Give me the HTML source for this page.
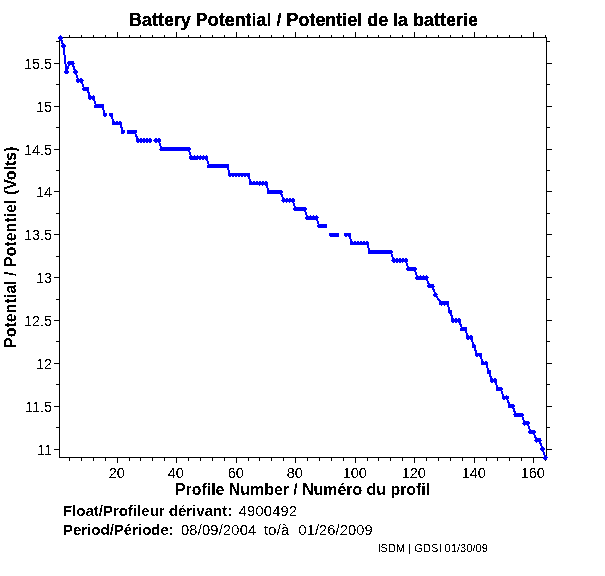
<!DOCTYPE html>
<html><head><meta charset="utf-8"><title>Battery Potential</title>
<style>
html,body{margin:0;padding:0;background:#fff;}
body{width:605px;height:576px;position:relative;overflow:hidden;font-family:"Liberation Sans",sans-serif;color:#000;}
.t{position:absolute;white-space:nowrap;line-height:1;margin:0;padding:0;}
</style></head><body>
<svg width="605" height="576" viewBox="0 0 605 576" shape-rendering="crispEdges" style="position:absolute;left:0;top:0"><defs><filter id="bin" x="0" y="0" width="100%" height="100%" color-interpolation-filters="sRGB"><feComponentTransfer><feFuncA type="discrete" tableValues="0 0 1 1"/></feComponentTransfer></filter></defs><path d="M117 32h1v1h-1zM176 32h1v1h-1zM236 32h1v1h-1zM295 32h1v1h-1zM355 32h1v1h-1zM414 32h1v1h-1zM474 32h1v1h-1zM533 32h1v1h-1zM117 33h1v1h-1zM176 33h1v1h-1zM236 33h1v1h-1zM295 33h1v1h-1zM355 33h1v1h-1zM414 33h1v1h-1zM474 33h1v1h-1zM533 33h1v1h-1zM117 34h1v1h-1zM176 34h1v1h-1zM236 34h1v1h-1zM295 34h1v1h-1zM355 34h1v1h-1zM414 34h1v1h-1zM474 34h1v1h-1zM533 34h1v1h-1zM69 35h1v1h-1zM81 35h1v1h-1zM93 35h1v1h-1zM105 35h1v1h-1zM117 35h1v1h-1zM129 35h1v1h-1zM140 35h1v1h-1zM152 35h1v1h-1zM164 35h1v1h-1zM176 35h1v1h-1zM188 35h1v1h-1zM200 35h1v1h-1zM212 35h1v1h-1zM224 35h1v1h-1zM236 35h1v1h-1zM248 35h1v1h-1zM259 35h1v1h-1zM271 35h1v1h-1zM283 35h1v1h-1zM295 35h1v1h-1zM307 35h1v1h-1zM319 35h1v1h-1zM331 35h1v1h-1zM343 35h1v1h-1zM355 35h1v1h-1zM367 35h1v1h-1zM378 35h1v1h-1zM390 35h1v1h-1zM402 35h1v1h-1zM414 35h1v1h-1zM426 35h1v1h-1zM438 35h1v1h-1zM450 35h1v1h-1zM462 35h1v1h-1zM474 35h1v1h-1zM486 35h1v1h-1zM497 35h1v1h-1zM509 35h1v1h-1zM521 35h1v1h-1zM533 35h1v1h-1zM545 35h1v1h-1zM69 36h1v1h-1zM81 36h1v1h-1zM93 36h1v1h-1zM105 36h1v1h-1zM117 36h1v1h-1zM129 36h1v1h-1zM140 36h1v1h-1zM152 36h1v1h-1zM164 36h1v1h-1zM176 36h1v1h-1zM188 36h1v1h-1zM200 36h1v1h-1zM212 36h1v1h-1zM224 36h1v1h-1zM236 36h1v1h-1zM248 36h1v1h-1zM259 36h1v1h-1zM271 36h1v1h-1zM283 36h1v1h-1zM295 36h1v1h-1zM307 36h1v1h-1zM319 36h1v1h-1zM331 36h1v1h-1zM343 36h1v1h-1zM355 36h1v1h-1zM367 36h1v1h-1zM378 36h1v1h-1zM390 36h1v1h-1zM402 36h1v1h-1zM414 36h1v1h-1zM426 36h1v1h-1zM438 36h1v1h-1zM450 36h1v1h-1zM462 36h1v1h-1zM474 36h1v1h-1zM486 36h1v1h-1zM497 36h1v1h-1zM509 36h1v1h-1zM521 36h1v1h-1zM533 36h1v1h-1zM545 36h1v1h-1zM59 37h488v1h-488zM59 38h1v1h-1zM546 38h1v1h-1zM59 39h1v1h-1zM546 39h1v1h-1zM59 40h1v1h-1zM546 40h1v1h-1zM56 41h4v1h-4zM546 41h4v1h-4zM59 42h1v1h-1zM546 42h1v1h-1zM59 43h1v1h-1zM546 43h1v1h-1zM59 44h1v1h-1zM546 44h1v1h-1zM59 45h1v1h-1zM546 45h1v1h-1zM59 46h1v1h-1zM546 46h1v1h-1zM59 47h1v1h-1zM546 47h1v1h-1zM59 48h1v1h-1zM546 48h1v1h-1zM59 49h1v1h-1zM546 49h1v1h-1zM59 50h1v1h-1zM546 50h1v1h-1zM59 51h1v1h-1zM546 51h1v1h-1zM59 52h1v1h-1zM546 52h1v1h-1zM59 53h1v1h-1zM546 53h1v1h-1zM59 54h1v1h-1zM546 54h1v1h-1zM59 55h1v1h-1zM546 55h1v1h-1zM59 56h1v1h-1zM546 56h1v1h-1zM59 57h1v1h-1zM546 57h1v1h-1zM59 58h1v1h-1zM546 58h1v1h-1zM59 59h1v1h-1zM546 59h1v1h-1zM59 60h1v1h-1zM546 60h1v1h-1zM59 61h1v1h-1zM546 61h1v1h-1zM59 62h1v1h-1zM546 62h1v1h-1zM54 63h6v1h-6zM546 63h6v1h-6zM59 64h1v1h-1zM546 64h1v1h-1zM59 65h1v1h-1zM546 65h1v1h-1zM59 66h1v1h-1zM546 66h1v1h-1zM59 67h1v1h-1zM546 67h1v1h-1zM59 68h1v1h-1zM546 68h1v1h-1zM59 69h1v1h-1zM546 69h1v1h-1zM59 70h1v1h-1zM546 70h1v1h-1zM59 71h1v1h-1zM546 71h1v1h-1zM59 72h1v1h-1zM546 72h1v1h-1zM59 73h1v1h-1zM546 73h1v1h-1zM59 74h1v1h-1zM546 74h1v1h-1zM59 75h1v1h-1zM546 75h1v1h-1zM59 76h1v1h-1zM546 76h1v1h-1zM59 77h1v1h-1zM546 77h1v1h-1zM59 78h1v1h-1zM546 78h1v1h-1zM59 79h1v1h-1zM546 79h1v1h-1zM59 80h1v1h-1zM546 80h1v1h-1zM59 81h1v1h-1zM546 81h1v1h-1zM59 82h1v1h-1zM546 82h1v1h-1zM59 83h1v1h-1zM546 83h1v1h-1zM56 84h4v1h-4zM546 84h4v1h-4zM59 85h1v1h-1zM546 85h1v1h-1zM59 86h1v1h-1zM546 86h1v1h-1zM59 87h1v1h-1zM546 87h1v1h-1zM59 88h1v1h-1zM546 88h1v1h-1zM59 89h1v1h-1zM546 89h1v1h-1zM59 90h1v1h-1zM546 90h1v1h-1zM59 91h1v1h-1zM546 91h1v1h-1zM59 92h1v1h-1zM546 92h1v1h-1zM59 93h1v1h-1zM546 93h1v1h-1zM59 94h1v1h-1zM546 94h1v1h-1zM59 95h1v1h-1zM546 95h1v1h-1zM59 96h1v1h-1zM546 96h1v1h-1zM59 97h1v1h-1zM546 97h1v1h-1zM59 98h1v1h-1zM546 98h1v1h-1zM59 99h1v1h-1zM546 99h1v1h-1zM59 100h1v1h-1zM546 100h1v1h-1zM59 101h1v1h-1zM546 101h1v1h-1zM59 102h1v1h-1zM546 102h1v1h-1zM59 103h1v1h-1zM546 103h1v1h-1zM59 104h1v1h-1zM546 104h1v1h-1zM59 105h1v1h-1zM546 105h1v1h-1zM54 106h6v1h-6zM546 106h6v1h-6zM59 107h1v1h-1zM546 107h1v1h-1zM59 108h1v1h-1zM546 108h1v1h-1zM59 109h1v1h-1zM546 109h1v1h-1zM59 110h1v1h-1zM546 110h1v1h-1zM59 111h1v1h-1zM546 111h1v1h-1zM59 112h1v1h-1zM546 112h1v1h-1zM59 113h1v1h-1zM546 113h1v1h-1zM59 114h1v1h-1zM546 114h1v1h-1zM59 115h1v1h-1zM546 115h1v1h-1zM59 116h1v1h-1zM546 116h1v1h-1zM59 117h1v1h-1zM546 117h1v1h-1zM59 118h1v1h-1zM546 118h1v1h-1zM59 119h1v1h-1zM546 119h1v1h-1zM59 120h1v1h-1zM546 120h1v1h-1zM59 121h1v1h-1zM546 121h1v1h-1zM59 122h1v1h-1zM546 122h1v1h-1zM59 123h1v1h-1zM546 123h1v1h-1zM59 124h1v1h-1zM546 124h1v1h-1zM59 125h1v1h-1zM546 125h1v1h-1zM59 126h1v1h-1zM546 126h1v1h-1zM56 127h4v1h-4zM546 127h4v1h-4zM59 128h1v1h-1zM546 128h1v1h-1zM59 129h1v1h-1zM546 129h1v1h-1zM59 130h1v1h-1zM546 130h1v1h-1zM59 131h1v1h-1zM546 131h1v1h-1zM59 132h1v1h-1zM546 132h1v1h-1zM59 133h1v1h-1zM546 133h1v1h-1zM59 134h1v1h-1zM546 134h1v1h-1zM59 135h1v1h-1zM546 135h1v1h-1zM59 136h1v1h-1zM546 136h1v1h-1zM59 137h1v1h-1zM546 137h1v1h-1zM59 138h1v1h-1zM546 138h1v1h-1zM59 139h1v1h-1zM546 139h1v1h-1zM59 140h1v1h-1zM546 140h1v1h-1zM59 141h1v1h-1zM546 141h1v1h-1zM59 142h1v1h-1zM546 142h1v1h-1zM59 143h1v1h-1zM546 143h1v1h-1zM59 144h1v1h-1zM546 144h1v1h-1zM59 145h1v1h-1zM546 145h1v1h-1zM59 146h1v1h-1zM546 146h1v1h-1zM59 147h1v1h-1zM546 147h1v1h-1zM59 148h1v1h-1zM546 148h1v1h-1zM54 149h6v1h-6zM546 149h6v1h-6zM59 150h1v1h-1zM546 150h1v1h-1zM59 151h1v1h-1zM546 151h1v1h-1zM59 152h1v1h-1zM546 152h1v1h-1zM59 153h1v1h-1zM546 153h1v1h-1zM59 154h1v1h-1zM546 154h1v1h-1zM59 155h1v1h-1zM546 155h1v1h-1zM59 156h1v1h-1zM546 156h1v1h-1zM59 157h1v1h-1zM546 157h1v1h-1zM59 158h1v1h-1zM546 158h1v1h-1zM59 159h1v1h-1zM546 159h1v1h-1zM59 160h1v1h-1zM546 160h1v1h-1zM59 161h1v1h-1zM546 161h1v1h-1zM59 162h1v1h-1zM546 162h1v1h-1zM59 163h1v1h-1zM546 163h1v1h-1zM59 164h1v1h-1zM546 164h1v1h-1zM59 165h1v1h-1zM546 165h1v1h-1zM59 166h1v1h-1zM546 166h1v1h-1zM59 167h1v1h-1zM546 167h1v1h-1zM59 168h1v1h-1zM546 168h1v1h-1zM59 169h1v1h-1zM546 169h1v1h-1zM56 170h4v1h-4zM546 170h4v1h-4zM59 171h1v1h-1zM546 171h1v1h-1zM59 172h1v1h-1zM546 172h1v1h-1zM59 173h1v1h-1zM546 173h1v1h-1zM59 174h1v1h-1zM546 174h1v1h-1zM59 175h1v1h-1zM546 175h1v1h-1zM59 176h1v1h-1zM546 176h1v1h-1zM59 177h1v1h-1zM546 177h1v1h-1zM59 178h1v1h-1zM546 178h1v1h-1zM59 179h1v1h-1zM546 179h1v1h-1zM59 180h1v1h-1zM546 180h1v1h-1zM59 181h1v1h-1zM546 181h1v1h-1zM59 182h1v1h-1zM546 182h1v1h-1zM59 183h1v1h-1zM546 183h1v1h-1zM59 184h1v1h-1zM546 184h1v1h-1zM59 185h1v1h-1zM546 185h1v1h-1zM59 186h1v1h-1zM546 186h1v1h-1zM59 187h1v1h-1zM546 187h1v1h-1zM59 188h1v1h-1zM546 188h1v1h-1zM59 189h1v1h-1zM546 189h1v1h-1zM59 190h1v1h-1zM546 190h1v1h-1zM54 191h6v1h-6zM546 191h6v1h-6zM59 192h1v1h-1zM546 192h1v1h-1zM59 193h1v1h-1zM546 193h1v1h-1zM59 194h1v1h-1zM546 194h1v1h-1zM59 195h1v1h-1zM546 195h1v1h-1zM59 196h1v1h-1zM546 196h1v1h-1zM59 197h1v1h-1zM546 197h1v1h-1zM59 198h1v1h-1zM546 198h1v1h-1zM59 199h1v1h-1zM546 199h1v1h-1zM59 200h1v1h-1zM546 200h1v1h-1zM59 201h1v1h-1zM546 201h1v1h-1zM59 202h1v1h-1zM546 202h1v1h-1zM59 203h1v1h-1zM546 203h1v1h-1zM59 204h1v1h-1zM546 204h1v1h-1zM59 205h1v1h-1zM546 205h1v1h-1zM59 206h1v1h-1zM546 206h1v1h-1zM59 207h1v1h-1zM546 207h1v1h-1zM59 208h1v1h-1zM546 208h1v1h-1zM59 209h1v1h-1zM546 209h1v1h-1zM59 210h1v1h-1zM546 210h1v1h-1zM59 211h1v1h-1zM546 211h1v1h-1zM59 212h1v1h-1zM546 212h1v1h-1zM56 213h4v1h-4zM546 213h4v1h-4zM59 214h1v1h-1zM546 214h1v1h-1zM59 215h1v1h-1zM546 215h1v1h-1zM59 216h1v1h-1zM546 216h1v1h-1zM59 217h1v1h-1zM546 217h1v1h-1zM59 218h1v1h-1zM546 218h1v1h-1zM59 219h1v1h-1zM546 219h1v1h-1zM59 220h1v1h-1zM546 220h1v1h-1zM59 221h1v1h-1zM546 221h1v1h-1zM59 222h1v1h-1zM546 222h1v1h-1zM59 223h1v1h-1zM546 223h1v1h-1zM59 224h1v1h-1zM546 224h1v1h-1zM59 225h1v1h-1zM546 225h1v1h-1zM59 226h1v1h-1zM546 226h1v1h-1zM59 227h1v1h-1zM546 227h1v1h-1zM59 228h1v1h-1zM546 228h1v1h-1zM59 229h1v1h-1zM546 229h1v1h-1zM59 230h1v1h-1zM546 230h1v1h-1zM59 231h1v1h-1zM546 231h1v1h-1zM59 232h1v1h-1zM546 232h1v1h-1zM59 233h1v1h-1zM546 233h1v1h-1zM54 234h6v1h-6zM546 234h6v1h-6zM59 235h1v1h-1zM546 235h1v1h-1zM59 236h1v1h-1zM546 236h1v1h-1zM59 237h1v1h-1zM546 237h1v1h-1zM59 238h1v1h-1zM546 238h1v1h-1zM59 239h1v1h-1zM546 239h1v1h-1zM59 240h1v1h-1zM546 240h1v1h-1zM59 241h1v1h-1zM546 241h1v1h-1zM59 242h1v1h-1zM546 242h1v1h-1zM59 243h1v1h-1zM546 243h1v1h-1zM59 244h1v1h-1zM546 244h1v1h-1zM59 245h1v1h-1zM546 245h1v1h-1zM59 246h1v1h-1zM546 246h1v1h-1zM59 247h1v1h-1zM546 247h1v1h-1zM59 248h1v1h-1zM546 248h1v1h-1zM59 249h1v1h-1zM546 249h1v1h-1zM59 250h1v1h-1zM546 250h1v1h-1zM59 251h1v1h-1zM546 251h1v1h-1zM59 252h1v1h-1zM546 252h1v1h-1zM59 253h1v1h-1zM546 253h1v1h-1zM59 254h1v1h-1zM546 254h1v1h-1zM59 255h1v1h-1zM546 255h1v1h-1zM56 256h4v1h-4zM546 256h4v1h-4zM59 257h1v1h-1zM546 257h1v1h-1zM59 258h1v1h-1zM546 258h1v1h-1zM59 259h1v1h-1zM546 259h1v1h-1zM59 260h1v1h-1zM546 260h1v1h-1zM59 261h1v1h-1zM546 261h1v1h-1zM59 262h1v1h-1zM546 262h1v1h-1zM59 263h1v1h-1zM546 263h1v1h-1zM59 264h1v1h-1zM546 264h1v1h-1zM59 265h1v1h-1zM546 265h1v1h-1zM59 266h1v1h-1zM546 266h1v1h-1zM59 267h1v1h-1zM546 267h1v1h-1zM59 268h1v1h-1zM546 268h1v1h-1zM59 269h1v1h-1zM546 269h1v1h-1zM59 270h1v1h-1zM546 270h1v1h-1zM59 271h1v1h-1zM546 271h1v1h-1zM59 272h1v1h-1zM546 272h1v1h-1zM59 273h1v1h-1zM546 273h1v1h-1zM59 274h1v1h-1zM546 274h1v1h-1zM59 275h1v1h-1zM546 275h1v1h-1zM59 276h1v1h-1zM546 276h1v1h-1zM54 277h6v1h-6zM546 277h6v1h-6zM59 278h1v1h-1zM546 278h1v1h-1zM59 279h1v1h-1zM546 279h1v1h-1zM59 280h1v1h-1zM546 280h1v1h-1zM59 281h1v1h-1zM546 281h1v1h-1zM59 282h1v1h-1zM546 282h1v1h-1zM59 283h1v1h-1zM546 283h1v1h-1zM59 284h1v1h-1zM546 284h1v1h-1zM59 285h1v1h-1zM546 285h1v1h-1zM59 286h1v1h-1zM546 286h1v1h-1zM59 287h1v1h-1zM546 287h1v1h-1zM59 288h1v1h-1zM546 288h1v1h-1zM59 289h1v1h-1zM546 289h1v1h-1zM59 290h1v1h-1zM546 290h1v1h-1zM59 291h1v1h-1zM546 291h1v1h-1zM59 292h1v1h-1zM546 292h1v1h-1zM59 293h1v1h-1zM546 293h1v1h-1zM59 294h1v1h-1zM546 294h1v1h-1zM59 295h1v1h-1zM546 295h1v1h-1zM59 296h1v1h-1zM546 296h1v1h-1zM59 297h1v1h-1zM546 297h1v1h-1zM59 298h1v1h-1zM546 298h1v1h-1zM56 299h4v1h-4zM546 299h4v1h-4zM59 300h1v1h-1zM546 300h1v1h-1zM59 301h1v1h-1zM546 301h1v1h-1zM59 302h1v1h-1zM546 302h1v1h-1zM59 303h1v1h-1zM546 303h1v1h-1zM59 304h1v1h-1zM546 304h1v1h-1zM59 305h1v1h-1zM546 305h1v1h-1zM59 306h1v1h-1zM546 306h1v1h-1zM59 307h1v1h-1zM546 307h1v1h-1zM59 308h1v1h-1zM546 308h1v1h-1zM59 309h1v1h-1zM546 309h1v1h-1zM59 310h1v1h-1zM546 310h1v1h-1zM59 311h1v1h-1zM546 311h1v1h-1zM59 312h1v1h-1zM546 312h1v1h-1zM59 313h1v1h-1zM546 313h1v1h-1zM59 314h1v1h-1zM546 314h1v1h-1zM59 315h1v1h-1zM546 315h1v1h-1zM59 316h1v1h-1zM546 316h1v1h-1zM59 317h1v1h-1zM546 317h1v1h-1zM59 318h1v1h-1zM546 318h1v1h-1zM59 319h1v1h-1zM546 319h1v1h-1zM54 320h6v1h-6zM546 320h6v1h-6zM59 321h1v1h-1zM546 321h1v1h-1zM59 322h1v1h-1zM546 322h1v1h-1zM59 323h1v1h-1zM546 323h1v1h-1zM59 324h1v1h-1zM546 324h1v1h-1zM59 325h1v1h-1zM546 325h1v1h-1zM59 326h1v1h-1zM546 326h1v1h-1zM59 327h1v1h-1zM546 327h1v1h-1zM59 328h1v1h-1zM546 328h1v1h-1zM59 329h1v1h-1zM546 329h1v1h-1zM59 330h1v1h-1zM546 330h1v1h-1zM59 331h1v1h-1zM546 331h1v1h-1zM59 332h1v1h-1zM546 332h1v1h-1zM59 333h1v1h-1zM546 333h1v1h-1zM59 334h1v1h-1zM546 334h1v1h-1zM59 335h1v1h-1zM546 335h1v1h-1zM59 336h1v1h-1zM546 336h1v1h-1zM59 337h1v1h-1zM546 337h1v1h-1zM59 338h1v1h-1zM546 338h1v1h-1zM59 339h1v1h-1zM546 339h1v1h-1zM59 340h1v1h-1zM546 340h1v1h-1zM56 341h4v1h-4zM546 341h4v1h-4zM59 342h1v1h-1zM546 342h1v1h-1zM59 343h1v1h-1zM546 343h1v1h-1zM59 344h1v1h-1zM546 344h1v1h-1zM59 345h1v1h-1zM546 345h1v1h-1zM59 346h1v1h-1zM546 346h1v1h-1zM59 347h1v1h-1zM546 347h1v1h-1zM59 348h1v1h-1zM546 348h1v1h-1zM59 349h1v1h-1zM546 349h1v1h-1zM59 350h1v1h-1zM546 350h1v1h-1zM59 351h1v1h-1zM546 351h1v1h-1zM59 352h1v1h-1zM546 352h1v1h-1zM59 353h1v1h-1zM546 353h1v1h-1zM59 354h1v1h-1zM546 354h1v1h-1zM59 355h1v1h-1zM546 355h1v1h-1zM59 356h1v1h-1zM546 356h1v1h-1zM59 357h1v1h-1zM546 357h1v1h-1zM59 358h1v1h-1zM546 358h1v1h-1zM59 359h1v1h-1zM546 359h1v1h-1zM59 360h1v1h-1zM546 360h1v1h-1zM59 361h1v1h-1zM546 361h1v1h-1zM59 362h1v1h-1zM546 362h1v1h-1zM54 363h6v1h-6zM546 363h6v1h-6zM59 364h1v1h-1zM546 364h1v1h-1zM59 365h1v1h-1zM546 365h1v1h-1zM59 366h1v1h-1zM546 366h1v1h-1zM59 367h1v1h-1zM546 367h1v1h-1zM59 368h1v1h-1zM546 368h1v1h-1zM59 369h1v1h-1zM546 369h1v1h-1zM59 370h1v1h-1zM546 370h1v1h-1zM59 371h1v1h-1zM546 371h1v1h-1zM59 372h1v1h-1zM546 372h1v1h-1zM59 373h1v1h-1zM546 373h1v1h-1zM59 374h1v1h-1zM546 374h1v1h-1zM59 375h1v1h-1zM546 375h1v1h-1zM59 376h1v1h-1zM546 376h1v1h-1zM59 377h1v1h-1zM546 377h1v1h-1zM59 378h1v1h-1zM546 378h1v1h-1zM59 379h1v1h-1zM546 379h1v1h-1zM59 380h1v1h-1zM546 380h1v1h-1zM59 381h1v1h-1zM546 381h1v1h-1zM59 382h1v1h-1zM546 382h1v1h-1zM59 383h1v1h-1zM546 383h1v1h-1zM56 384h4v1h-4zM546 384h4v1h-4zM59 385h1v1h-1zM546 385h1v1h-1zM59 386h1v1h-1zM546 386h1v1h-1zM59 387h1v1h-1zM546 387h1v1h-1zM59 388h1v1h-1zM546 388h1v1h-1zM59 389h1v1h-1zM546 389h1v1h-1zM59 390h1v1h-1zM546 390h1v1h-1zM59 391h1v1h-1zM546 391h1v1h-1zM59 392h1v1h-1zM546 392h1v1h-1zM59 393h1v1h-1zM546 393h1v1h-1zM59 394h1v1h-1zM546 394h1v1h-1zM59 395h1v1h-1zM546 395h1v1h-1zM59 396h1v1h-1zM546 396h1v1h-1zM59 397h1v1h-1zM546 397h1v1h-1zM59 398h1v1h-1zM546 398h1v1h-1zM59 399h1v1h-1zM546 399h1v1h-1zM59 400h1v1h-1zM546 400h1v1h-1zM59 401h1v1h-1zM546 401h1v1h-1zM59 402h1v1h-1zM546 402h1v1h-1zM59 403h1v1h-1zM546 403h1v1h-1zM59 404h1v1h-1zM546 404h1v1h-1zM59 405h1v1h-1zM546 405h1v1h-1zM54 406h6v1h-6zM546 406h6v1h-6zM59 407h1v1h-1zM546 407h1v1h-1zM59 408h1v1h-1zM546 408h1v1h-1zM59 409h1v1h-1zM546 409h1v1h-1zM59 410h1v1h-1zM546 410h1v1h-1zM59 411h1v1h-1zM546 411h1v1h-1zM59 412h1v1h-1zM546 412h1v1h-1zM59 413h1v1h-1zM546 413h1v1h-1zM59 414h1v1h-1zM546 414h1v1h-1zM59 415h1v1h-1zM546 415h1v1h-1zM59 416h1v1h-1zM546 416h1v1h-1zM59 417h1v1h-1zM546 417h1v1h-1zM59 418h1v1h-1zM546 418h1v1h-1zM59 419h1v1h-1zM546 419h1v1h-1zM59 420h1v1h-1zM546 420h1v1h-1zM59 421h1v1h-1zM546 421h1v1h-1zM59 422h1v1h-1zM546 422h1v1h-1zM59 423h1v1h-1zM546 423h1v1h-1zM59 424h1v1h-1zM546 424h1v1h-1zM59 425h1v1h-1zM546 425h1v1h-1zM59 426h1v1h-1zM546 426h1v1h-1zM56 427h4v1h-4zM546 427h4v1h-4zM59 428h1v1h-1zM546 428h1v1h-1zM59 429h1v1h-1zM546 429h1v1h-1zM59 430h1v1h-1zM546 430h1v1h-1zM59 431h1v1h-1zM546 431h1v1h-1zM59 432h1v1h-1zM546 432h1v1h-1zM59 433h1v1h-1zM546 433h1v1h-1zM59 434h1v1h-1zM546 434h1v1h-1zM59 435h1v1h-1zM546 435h1v1h-1zM59 436h1v1h-1zM546 436h1v1h-1zM59 437h1v1h-1zM546 437h1v1h-1zM59 438h1v1h-1zM546 438h1v1h-1zM59 439h1v1h-1zM546 439h1v1h-1zM59 440h1v1h-1zM546 440h1v1h-1zM59 441h1v1h-1zM546 441h1v1h-1zM59 442h1v1h-1zM546 442h1v1h-1zM59 443h1v1h-1zM546 443h1v1h-1zM59 444h1v1h-1zM546 444h1v1h-1zM59 445h1v1h-1zM546 445h1v1h-1zM59 446h1v1h-1zM546 446h1v1h-1zM59 447h1v1h-1zM546 447h1v1h-1zM59 448h1v1h-1zM546 448h1v1h-1zM54 449h6v1h-6zM546 449h6v1h-6zM59 450h1v1h-1zM546 450h1v1h-1zM59 451h1v1h-1zM546 451h1v1h-1zM59 452h1v1h-1zM546 452h1v1h-1zM59 453h1v1h-1zM546 453h1v1h-1zM59 454h1v1h-1zM546 454h1v1h-1zM59 455h1v1h-1zM546 455h1v1h-1zM59 456h1v1h-1zM546 456h1v1h-1zM59 457h488v1h-488zM69 458h1v1h-1zM81 458h1v1h-1zM93 458h1v1h-1zM105 458h1v1h-1zM117 458h1v1h-1zM129 458h1v1h-1zM140 458h1v1h-1zM152 458h1v1h-1zM164 458h1v1h-1zM176 458h1v1h-1zM188 458h1v1h-1zM200 458h1v1h-1zM212 458h1v1h-1zM224 458h1v1h-1zM236 458h1v1h-1zM248 458h1v1h-1zM259 458h1v1h-1zM271 458h1v1h-1zM283 458h1v1h-1zM295 458h1v1h-1zM307 458h1v1h-1zM319 458h1v1h-1zM331 458h1v1h-1zM343 458h1v1h-1zM355 458h1v1h-1zM367 458h1v1h-1zM378 458h1v1h-1zM390 458h1v1h-1zM402 458h1v1h-1zM414 458h1v1h-1zM426 458h1v1h-1zM438 458h1v1h-1zM450 458h1v1h-1zM462 458h1v1h-1zM474 458h1v1h-1zM486 458h1v1h-1zM497 458h1v1h-1zM509 458h1v1h-1zM521 458h1v1h-1zM533 458h1v1h-1zM545 458h1v1h-1zM69 459h1v1h-1zM81 459h1v1h-1zM93 459h1v1h-1zM105 459h1v1h-1zM117 459h1v1h-1zM129 459h1v1h-1zM140 459h1v1h-1zM152 459h1v1h-1zM164 459h1v1h-1zM176 459h1v1h-1zM188 459h1v1h-1zM200 459h1v1h-1zM212 459h1v1h-1zM224 459h1v1h-1zM236 459h1v1h-1zM248 459h1v1h-1zM259 459h1v1h-1zM271 459h1v1h-1zM283 459h1v1h-1zM295 459h1v1h-1zM307 459h1v1h-1zM319 459h1v1h-1zM331 459h1v1h-1zM343 459h1v1h-1zM355 459h1v1h-1zM367 459h1v1h-1zM378 459h1v1h-1zM390 459h1v1h-1zM402 459h1v1h-1zM414 459h1v1h-1zM426 459h1v1h-1zM438 459h1v1h-1zM450 459h1v1h-1zM462 459h1v1h-1zM474 459h1v1h-1zM486 459h1v1h-1zM497 459h1v1h-1zM509 459h1v1h-1zM521 459h1v1h-1zM533 459h1v1h-1zM545 459h1v1h-1zM69 460h1v1h-1zM81 460h1v1h-1zM93 460h1v1h-1zM105 460h1v1h-1zM117 460h1v1h-1zM129 460h1v1h-1zM140 460h1v1h-1zM152 460h1v1h-1zM164 460h1v1h-1zM176 460h1v1h-1zM188 460h1v1h-1zM200 460h1v1h-1zM212 460h1v1h-1zM224 460h1v1h-1zM236 460h1v1h-1zM248 460h1v1h-1zM259 460h1v1h-1zM271 460h1v1h-1zM283 460h1v1h-1zM295 460h1v1h-1zM307 460h1v1h-1zM319 460h1v1h-1zM331 460h1v1h-1zM343 460h1v1h-1zM355 460h1v1h-1zM367 460h1v1h-1zM378 460h1v1h-1zM390 460h1v1h-1zM402 460h1v1h-1zM414 460h1v1h-1zM426 460h1v1h-1zM438 460h1v1h-1zM450 460h1v1h-1zM462 460h1v1h-1zM474 460h1v1h-1zM486 460h1v1h-1zM497 460h1v1h-1zM509 460h1v1h-1zM521 460h1v1h-1zM533 460h1v1h-1zM545 460h1v1h-1zM117 461h1v1h-1zM176 461h1v1h-1zM236 461h1v1h-1zM295 461h1v1h-1zM355 461h1v1h-1zM414 461h1v1h-1zM474 461h1v1h-1zM533 461h1v1h-1zM117 462h1v1h-1zM176 462h1v1h-1zM236 462h1v1h-1zM295 462h1v1h-1zM355 462h1v1h-1zM414 462h1v1h-1zM474 462h1v1h-1zM533 462h1v1h-1z" fill="#000"/><path d="M60 35h1v1h-1zM59 36h3v1h-3zM58 37h5v1h-5zM58 38h5v1h-5zM59 39h3v1h-3zM60 40h3v1h-3zM61 41h2v1h-2zM61 42h2v1h-2zM61 43h3v1h-3zM62 44h3v1h-3zM61 45h5v1h-5zM61 46h5v1h-5zM62 47h3v1h-3zM63 48h2v1h-2zM63 49h2v1h-2zM63 50h2v1h-2zM63 51h2v1h-2zM63 52h2v1h-2zM63 53h2v1h-2zM63 54h2v1h-2zM64 55h2v1h-2zM64 56h2v1h-2zM64 57h2v1h-2zM64 58h2v1h-2zM64 59h2v1h-2zM64 60h2v1h-2zM64 61h2v1h-2zM68 61h6v1h-6zM64 62h2v1h-2zM67 62h7v1h-7zM64 63h2v1h-2zM67 63h8v1h-8zM65 64h2v1h-2zM68 64h6v1h-6zM65 65h2v1h-2zM68 65h2v1h-2zM72 65h2v1h-2zM65 66h4v1h-4zM72 66h3v1h-3zM65 67h4v1h-4zM73 67h2v1h-2zM65 68h4v1h-4zM73 68h2v1h-2zM65 69h3v1h-3zM73 69h3v1h-3zM65 70h3v1h-3zM74 70h3v1h-3zM64 71h5v1h-5zM73 71h5v1h-5zM64 72h5v1h-5zM73 72h5v1h-5zM65 73h3v1h-3zM74 73h3v1h-3zM75 74h2v1h-2zM76 75h2v1h-2zM76 76h2v1h-2zM76 77h2v1h-2zM77 78h2v1h-2zM80 78h2v1h-2zM76 79h7v1h-7zM76 80h8v1h-8zM76 81h7v1h-7zM77 82h2v1h-2zM80 82h3v1h-3zM81 83h2v1h-2zM82 84h2v1h-2zM82 85h2v1h-2zM82 86h2v1h-2zM83 87h6v1h-6zM82 88h7v1h-7zM82 89h7v1h-7zM83 90h6v1h-6zM87 91h2v1h-2zM87 92h3v1h-3zM88 93h2v1h-2zM88 94h2v1h-2zM88 95h3v1h-3zM93 95h1v1h-1zM88 96h7v1h-7zM88 97h7v1h-7zM88 98h7v1h-7zM89 99h2v1h-2zM92 99h3v1h-3zM93 100h2v1h-2zM94 101h2v1h-2zM94 102h2v1h-2zM94 103h2v1h-2zM95 104h9v1h-9zM94 105h10v1h-10zM94 106h10v1h-10zM94 107h10v1h-10zM102 108h2v1h-2zM102 109h2v1h-2zM103 110h2v1h-2zM103 111h2v1h-2zM103 112h2v1h-2zM103 113h4v1h-4zM109 113h4v1h-4zM103 114h4v1h-4zM109 114h4v1h-4zM103 115h4v1h-4zM109 115h4v1h-4zM104 116h2v1h-2zM110 116h3v1h-3zM111 117h2v1h-2zM111 118h2v1h-2zM112 119h2v1h-2zM112 120h2v1h-2zM112 121h3v1h-3zM116 121h2v1h-2zM119 121h2v1h-2zM112 122h10v1h-10zM112 123h10v1h-10zM112 124h10v1h-10zM120 125h2v1h-2zM120 126h2v1h-2zM120 127h3v1h-3zM121 128h2v1h-2zM121 129h2v1h-2zM121 130h4v1h-4zM127 130h10v1h-10zM121 131h4v1h-4zM127 131h10v1h-10zM121 132h4v1h-4zM127 132h10v1h-10zM121 133h3v1h-3zM127 133h9v1h-9zM135 134h2v1h-2zM135 135h2v1h-2zM135 136h3v1h-3zM136 137h2v1h-2zM136 138h3v1h-3zM140 138h2v1h-2zM143 138h2v1h-2zM146 138h2v1h-2zM149 138h2v1h-2zM155 138h2v1h-2zM158 138h2v1h-2zM136 139h16v1h-16zM154 139h7v1h-7zM136 140h16v1h-16zM153 140h8v1h-8zM136 141h16v1h-16zM154 141h7v1h-7zM137 142h2v1h-2zM140 142h2v1h-2zM143 142h2v1h-2zM146 142h2v1h-2zM149 142h2v1h-2zM155 142h2v1h-2zM158 142h2v1h-2zM159 143h2v1h-2zM159 144h2v1h-2zM159 145h2v1h-2zM160 146h2v1h-2zM160 147h30v1h-30zM160 148h31v1h-31zM159 149h32v1h-32zM160 150h30v1h-30zM188 151h2v1h-2zM189 152h2v1h-2zM189 153h2v1h-2zM189 154h2v1h-2zM190 155h2v1h-2zM194 155h1v1h-1zM197 155h1v1h-1zM200 155h1v1h-1zM203 155h1v1h-1zM206 155h1v1h-1zM189 156h19v1h-19zM189 157h19v1h-19zM189 158h19v1h-19zM190 159h8v1h-8zM199 159h2v1h-2zM202 159h2v1h-2zM205 159h3v1h-3zM206 160h2v1h-2zM207 161h2v1h-2zM207 162h2v1h-2zM207 163h2v1h-2zM208 164h21v1h-21zM207 165h22v1h-22zM207 166h22v1h-22zM207 167h22v1h-22zM227 168h2v1h-2zM227 169h2v1h-2zM228 170h2v1h-2zM228 171h2v1h-2zM228 172h2v1h-2zM228 173h22v1h-22zM228 174h22v1h-22zM228 175h22v1h-22zM229 176h2v1h-2zM232 176h2v1h-2zM235 176h2v1h-2zM238 176h2v1h-2zM241 176h2v1h-2zM244 176h2v1h-2zM247 176h3v1h-3zM248 177h2v1h-2zM248 178h2v1h-2zM249 179h2v1h-2zM249 180h2v1h-2zM249 181h3v1h-3zM253 181h2v1h-2zM256 181h2v1h-2zM259 181h2v1h-2zM262 181h2v1h-2zM265 181h2v1h-2zM249 182h19v1h-19zM249 183h19v1h-19zM249 184h19v1h-19zM259 185h1v1h-1zM262 185h1v1h-1zM265 185h3v1h-3zM266 186h2v1h-2zM266 187h2v1h-2zM267 188h2v1h-2zM267 189h2v1h-2zM267 190h15v1h-15zM267 191h16v1h-16zM267 192h16v1h-16zM267 193h15v1h-15zM280 194h3v1h-3zM281 195h2v1h-2zM281 196h2v1h-2zM282 197h2v1h-2zM282 198h3v1h-3zM286 198h2v1h-2zM289 198h2v1h-2zM292 198h2v1h-2zM282 199h13v1h-13zM281 200h14v1h-14zM282 201h13v1h-13zM283 202h1v1h-1zM286 202h1v1h-1zM289 202h1v1h-1zM292 202h2v1h-2zM293 203h2v1h-2zM293 204h2v1h-2zM293 205h2v1h-2zM294 206h2v1h-2zM294 207h12v1h-12zM293 208h14v1h-14zM293 209h14v1h-14zM294 210h12v1h-12zM304 211h2v1h-2zM305 212h2v1h-2zM305 213h2v1h-2zM305 214h2v1h-2zM306 215h2v1h-2zM310 215h1v1h-1zM313 215h1v1h-1zM316 215h1v1h-1zM306 216h12v1h-12zM305 217h14v1h-14zM305 218h13v1h-13zM306 219h12v1h-12zM316 220h2v1h-2zM317 221h2v1h-2zM317 222h2v1h-2zM317 223h2v1h-2zM318 224h9v1h-9zM317 225h10v1h-10zM317 226h10v1h-10zM318 227h9v1h-9zM329 233h10v1h-10zM344 233h7v1h-7zM329 234h10v1h-10zM344 234h7v1h-7zM329 235h10v1h-10zM344 235h7v1h-7zM330 236h9v1h-9zM345 236h2v1h-2zM348 236h3v1h-3zM349 237h2v1h-2zM349 238h2v1h-2zM350 239h2v1h-2zM350 240h2v1h-2zM350 241h3v1h-3zM354 241h2v1h-2zM357 241h2v1h-2zM360 241h2v1h-2zM363 241h2v1h-2zM366 241h2v1h-2zM350 242h19v1h-19zM350 243h19v1h-19zM350 244h19v1h-19zM367 245h2v1h-2zM367 246h2v1h-2zM367 247h2v1h-2zM368 248h2v1h-2zM368 249h2v1h-2zM368 250h24v1h-24zM368 251h25v1h-25zM368 252h25v1h-25zM368 253h24v1h-24zM391 254h2v1h-2zM391 255h2v1h-2zM391 256h2v1h-2zM392 257h2v1h-2zM392 258h3v1h-3zM396 258h2v1h-2zM399 258h2v1h-2zM402 258h2v1h-2zM405 258h2v1h-2zM392 259h16v1h-16zM391 260h17v1h-17zM392 261h16v1h-16zM393 262h2v1h-2zM396 262h2v1h-2zM399 262h2v1h-2zM402 262h1v1h-1zM405 262h2v1h-2zM406 263h2v1h-2zM406 264h2v1h-2zM406 265h2v1h-2zM407 266h2v1h-2zM407 267h9v1h-9zM406 268h11v1h-11zM406 269h11v1h-11zM407 270h9v1h-9zM414 271h2v1h-2zM415 272h2v1h-2zM415 273h2v1h-2zM415 274h2v1h-2zM416 275h2v1h-2zM420 275h1v1h-1zM423 275h1v1h-1zM426 275h1v1h-1zM416 276h12v1h-12zM415 277h14v1h-14zM415 278h13v1h-13zM416 279h12v1h-12zM426 280h2v1h-2zM427 281h2v1h-2zM427 282h2v1h-2zM427 283h3v1h-3zM428 284h6v1h-6zM427 285h7v1h-7zM427 286h8v1h-8zM428 287h6v1h-6zM432 288h2v1h-2zM432 289h3v1h-3zM433 290h2v1h-2zM433 291h2v1h-2zM434 292h2v1h-2zM434 293h3v1h-3zM433 294h5v1h-5zM433 295h4v1h-4zM434 296h4v1h-4zM436 297h2v1h-2zM437 298h2v1h-2zM437 299h3v1h-3zM438 300h3v1h-3zM439 301h10v1h-10zM439 302h10v1h-10zM439 303h10v1h-10zM439 304h10v1h-10zM441 305h1v1h-1zM444 305h1v1h-1zM447 305h2v1h-2zM447 306h2v1h-2zM448 307h2v1h-2zM448 308h2v1h-2zM448 309h2v1h-2zM448 310h4v1h-4zM448 311h4v1h-4zM448 312h4v1h-4zM449 313h3v1h-3zM450 314h2v1h-2zM450 315h3v1h-3zM451 316h2v1h-2zM451 317h2v1h-2zM451 318h3v1h-3zM455 318h2v1h-2zM458 318h2v1h-2zM451 319h10v1h-10zM451 320h10v1h-10zM451 321h10v1h-10zM452 322h2v1h-2zM455 322h2v1h-2zM458 322h3v1h-3zM459 323h2v1h-2zM459 324h3v1h-3zM460 325h2v1h-2zM460 326h2v1h-2zM461 327h6v1h-6zM460 328h7v1h-7zM460 329h7v1h-7zM460 330h7v1h-7zM465 331h2v1h-2zM465 332h2v1h-2zM466 333h2v1h-2zM466 334h2v1h-2zM466 335h3v1h-3zM470 335h2v1h-2zM466 336h7v1h-7zM466 337h7v1h-7zM466 338h7v1h-7zM467 339h2v1h-2zM470 339h3v1h-3zM471 340h2v1h-2zM471 341h2v1h-2zM472 342h2v1h-2zM472 343h2v1h-2zM472 344h3v1h-3zM472 345h4v1h-4zM472 346h4v1h-4zM472 347h4v1h-4zM474 348h2v1h-2zM474 349h2v1h-2zM474 350h3v1h-3zM475 351h2v1h-2zM475 352h2v1h-2zM475 353h7v1h-7zM475 354h7v1h-7zM475 355h7v1h-7zM476 356h2v1h-2zM479 356h3v1h-3zM480 357h2v1h-2zM480 358h2v1h-2zM481 359h2v1h-2zM481 360h2v1h-2zM481 361h3v1h-3zM485 361h2v1h-2zM481 362h7v1h-7zM481 363h7v1h-7zM481 364h7v1h-7zM486 365h2v1h-2zM486 366h2v1h-2zM486 367h2v1h-2zM487 368h2v1h-2zM487 369h2v1h-2zM487 370h4v1h-4zM487 371h4v1h-4zM487 372h4v1h-4zM487 373h4v1h-4zM489 374h2v1h-2zM489 375h2v1h-2zM489 376h3v1h-3zM490 377h2v1h-2zM490 378h3v1h-3zM494 378h2v1h-2zM490 379h7v1h-7zM490 380h7v1h-7zM490 381h7v1h-7zM491 382h2v1h-2zM494 382h3v1h-3zM495 383h2v1h-2zM495 384h2v1h-2zM496 385h2v1h-2zM496 386h2v1h-2zM496 387h6v1h-6zM496 388h7v1h-7zM496 389h7v1h-7zM496 390h6v1h-6zM501 391h2v1h-2zM501 392h2v1h-2zM501 393h2v1h-2zM502 394h2v1h-2zM502 395h2v1h-2zM506 395h1v1h-1zM502 396h7v1h-7zM502 397h7v1h-7zM502 398h7v1h-7zM503 399h2v1h-2zM506 399h2v1h-2zM507 400h2v1h-2zM507 401h2v1h-2zM507 402h3v1h-3zM508 403h2v1h-2zM508 404h6v1h-6zM508 405h7v1h-7zM508 406h7v1h-7zM508 407h6v1h-6zM512 408h3v1h-3zM513 409h2v1h-2zM513 410h2v1h-2zM513 411h3v1h-3zM514 412h2v1h-2zM514 413h9v1h-9zM513 414h11v1h-11zM514 415h10v1h-10zM514 416h9v1h-9zM522 417h2v1h-2zM522 418h2v1h-2zM522 419h2v1h-2zM523 420h2v1h-2zM523 421h6v1h-6zM523 422h7v1h-7zM522 423h8v1h-8zM523 424h6v1h-6zM524 425h1v1h-1zM527 425h2v1h-2zM528 426h2v1h-2zM528 427h2v1h-2zM528 428h2v1h-2zM529 429h2v1h-2zM529 430h6v1h-6zM528 431h8v1h-8zM528 432h8v1h-8zM529 433h6v1h-6zM533 434h2v1h-2zM534 435h2v1h-2zM534 436h2v1h-2zM534 437h3v1h-3zM535 438h6v1h-6zM535 439h6v1h-6zM534 440h8v1h-8zM535 441h6v1h-6zM536 442h1v1h-1zM539 442h2v1h-2zM539 443h3v1h-3zM540 444h2v1h-2zM540 445h2v1h-2zM541 446h2v1h-2zM541 447h3v1h-3zM540 448h5v1h-5zM540 449h5v1h-5zM541 450h3v1h-3zM542 451h2v1h-2zM543 452h2v1h-2zM543 453h2v1h-2zM543 454h2v1h-2zM544 455h2v1h-2zM544 456h3v1h-3zM543 457h5v1h-5zM543 458h4v1h-4zM544 459h3v1h-3z" fill="#0000ff"/></svg>
<div id="tx" style="position:absolute;left:0;top:0;width:605px;height:576px;filter:url(#bin);"><div class="t" style="left:129px;top:11.81px;font-size:17.95px;font-weight:bold;-webkit-text-stroke:0.3px #000;">Battery Potential / Potentiel de la batterie</div><div class="t" style="left:175px;top:481.54px;font-size:15.9px;font-weight:bold;">Profile Number / Num&eacute;ro du profil</div><div class="t" style="left:63px;top:503.30px;font-size:15.0px;font-weight:bold;">Float/Profileur d&eacute;rivant:</div><div class="t" style="left:238.7px;top:503.56px;font-size:14.7px;font-weight:normal;letter-spacing:0.2px;">4900492</div><div class="t" style="left:63px;top:522.30px;font-size:15.0px;font-weight:bold;">Period/P&eacute;riode:</div><div class="t" style="left:180.9px;top:522.56px;font-size:14.7px;font-weight:normal;letter-spacing:0.2px;">08/09/2004</div><div class="t" style="left:264px;top:522.56px;font-size:14.7px;font-weight:normal;letter-spacing:0.2px;">to/&agrave;</div><div class="t" style="left:298.4px;top:522.56px;font-size:14.7px;font-weight:normal;letter-spacing:0.08px;">01/26/2009</div><div class="t" style="left:377.5px;top:542.99px;font-size:11.12px;font-weight:normal;">ISDM | GDSI 01/30/09</div><div class="t" style="left:3px;top:348px;font-size:16px;font-weight:bold;transform-origin:0 0;transform:rotate(-90deg);">Potential / Potentiel (Volts)</div><div class="t" style="right:553px;top:442.81px;font-size:14.4px;">11</div><div class="t" style="right:553px;top:399.81px;font-size:14.4px;">11.5</div><div class="t" style="right:553px;top:356.81px;font-size:14.4px;">12</div><div class="t" style="right:553px;top:313.81px;font-size:14.4px;">12.5</div><div class="t" style="right:553px;top:270.81px;font-size:14.4px;">13</div><div class="t" style="right:553px;top:227.81px;font-size:14.4px;">13.5</div><div class="t" style="right:553px;top:184.81px;font-size:14.4px;">14</div><div class="t" style="right:553px;top:142.81px;font-size:14.4px;">14.5</div><div class="t" style="right:553px;top:99.81px;font-size:14.4px;">15</div><div class="t" style="right:553px;top:56.81px;font-size:14.4px;">15.5</div><div class="t" style="left:66.8px;width:100px;text-align:center;top:465.81px;font-size:14.4px;">20</div><div class="t" style="left:125.8px;width:100px;text-align:center;top:465.81px;font-size:14.4px;">40</div><div class="t" style="left:185.8px;width:100px;text-align:center;top:465.81px;font-size:14.4px;">60</div><div class="t" style="left:244.8px;width:100px;text-align:center;top:465.81px;font-size:14.4px;">80</div><div class="t" style="left:304.8px;width:100px;text-align:center;top:465.81px;font-size:14.4px;">100</div><div class="t" style="left:363.8px;width:100px;text-align:center;top:465.81px;font-size:14.4px;">120</div><div class="t" style="left:423.8px;width:100px;text-align:center;top:465.81px;font-size:14.4px;">140</div><div class="t" style="left:482.8px;width:100px;text-align:center;top:465.81px;font-size:14.4px;">160</div></div>
</body></html>
